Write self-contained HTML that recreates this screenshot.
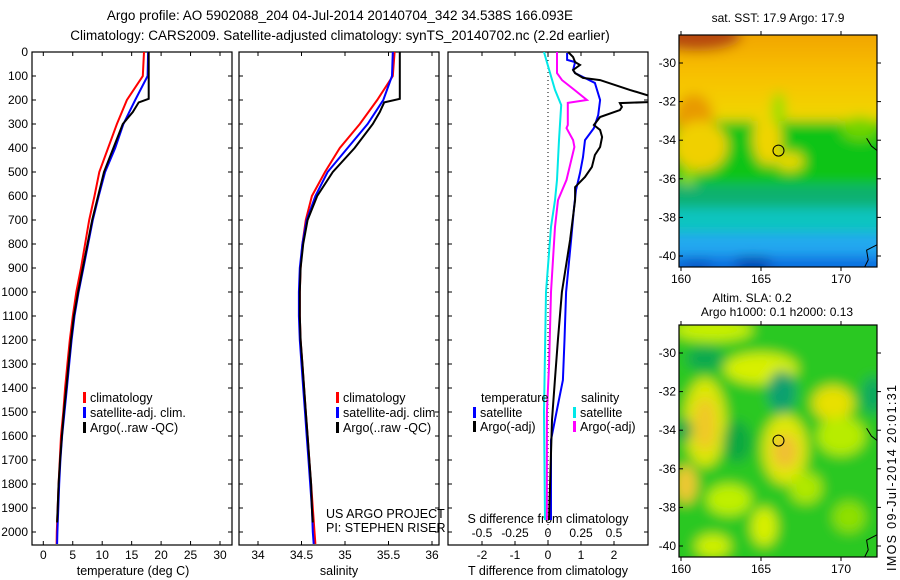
<!DOCTYPE html>
<html><head><meta charset="utf-8"><style>
html,body{margin:0;padding:0;background:#fff;}
svg{display:block;font-family:"Liberation Sans",sans-serif;}
</style></head><body>
<svg id="fig" width="900" height="580" viewBox="0 0 900 580">
<defs>
<clipPath id="c1"><rect x="32" y="52" width="200" height="493"/></clipPath>
<clipPath id="c2"><rect x="239" y="52" width="200" height="493"/></clipPath>
<clipPath id="c3"><rect x="448" y="52" width="200" height="493"/></clipPath>
<clipPath id="cm1"><rect x="679" y="35" width="198" height="232"/></clipPath>
<clipPath id="cm2"><rect x="679" y="325" width="198" height="232"/></clipPath>
<filter id="bl" filterUnits="userSpaceOnUse" x="600" y="0" width="300" height="580"><feGaussianBlur stdDeviation="6"/></filter>
<linearGradient id="sstg" x1="0" y1="0" x2="0" y2="1">
<stop offset="0" stop-color="#d87000"/><stop offset="0.3" stop-color="#f0a000"/><stop offset="0.65" stop-color="#f8c000"/><stop offset="1" stop-color="#f0d800"/>
</linearGradient>
</defs>
<g font-size="13.5" text-anchor="middle" fill="#000">
<text x="340" y="20">Argo profile: AO 5902088_204 04-Jul-2014 20140704_342 34.538S 166.093E</text>
<text x="340" y="40">Climatology: CARS2009. Satellite-adjusted climatology: synTS_20140702.nc (2.2d earlier)</text>
</g>
<g id="axes"></g>
<g id="maps"></g>
</svg>
<script>
// ---- data ----
const tempDepthClim = [0,100,200,300,400,500,600,700,800,900,1000,1100,1200,1300,1400,1500,1600,1700,1800,1900,2000,2050];
const tempClim = [17.1,16.9,14.2,12.5,11.0,9.5,8.7,7.8,7.1,6.4,5.6,5.0,4.5,4.1,3.7,3.4,3.0,2.8,2.6,2.45,2.3,2.25];
const tempSat = [17.8,17.7,15.6,13.6,12.2,10.5,9.4,8.4,7.6,6.8,6.0,5.3,4.8,4.4,4.0,3.6,3.2,2.9,2.7,2.55,2.4,2.35];
const argoDepth = [0,195,210,250,300,400,500,600,700,800,900,1000,1100,1200,1300,1400,1500,1600,1700,1800,1900,1960];
const tempArgo = [17.9,17.9,16.2,15.2,13.5,11.9,10.3,9.3,8.3,7.5,6.7,5.9,5.2,4.7,4.3,3.9,3.5,3.15,2.85,2.6,2.45,2.35];
const salClim = [35.57,35.55,35.37,35.17,34.94,34.77,34.62,34.55,34.51,34.49,34.48,34.48,34.49,34.51,34.53,34.55,34.57,34.59,34.61,34.63,34.65,34.66];
const salSat = [35.55,35.54,35.44,35.26,35.03,34.80,34.66,34.56,34.51,34.48,34.47,34.47,34.48,34.50,34.52,34.54,34.56,34.58,34.60,34.62,34.63,34.64];
const salArgo = [35.63,35.63,35.45,35.40,35.32,35.11,34.86,34.68,34.57,34.52,34.49,34.48,34.48,34.49,34.51,34.53,34.55,34.57,34.59,34.61,34.62,34.63];
const dTsatDepth = [4,33,42,75,88,104,129,200,263,317,367,438,504,575,646,783,1000,1200,1367,1450,1617,1950];
const dTsat = [0.58,0.58,0.82,0.76,0.82,1.06,1.42,1.58,1.52,1.39,1.12,1.06,0.97,0.85,0.79,0.70,0.55,0.50,0.45,0.33,0.09,0.09];
const dTargoDepth = [0,21,42,54,75,88,108,117,158,188,208,213,229,242,271,304,325,354,396,429,479,521,563,617,783,1000,1200,1367,1533,1950];
const dTargo = [0.61,0.76,0.82,0.97,0.76,0.82,1.06,1.58,2.48,3.2,3.2,2.18,2.24,2.18,1.58,1.39,1.58,1.64,1.58,1.42,1.33,1.12,0.82,0.82,0.67,0.42,0.30,0.21,0.12,0.03];
const dSsatDepth = [0,42,158,221,367,533,617,729,1000,1500,1950];
const dSsat = [-0.03,-0.008,0.053,0.10,0.083,0.068,0.053,0.023,-0.015,-0.03,-0.023];
const dSargoDepth = [0,88,117,158,200,212,304,317,367,396,533,617,729,1000,1300,1500,1950];
const dSargo = [0.068,0.068,0.106,0.20,0.295,0.15,0.15,0.14,0.19,0.20,0.14,0.076,0.053,0.023,0.008,-0.008,-0.008];
const depthTicks = [0,100,200,300,400,500,600,700,800,900,1000,1100,1200,1300,1400,1500,1600,1700,1800,1900,2000];
const tempTicks = [0,5,10,15,20,25,30];
const salTicks = [34,34.5,35,35.5,36];
const salTickLabels = ["34","34.5","35","35.5","36"];
const dTTicks = [-2,-1,0,1,2];
const dSTicks = [-0.5,-0.25,0,0.25,0.5];
const dSTickLabels = ["-0.5","-0.25","0","0.25","0.5"];

// ---- scales ----
const NS='http://www.w3.org/2000/svg';
const Y=d=>52+d*0.24;
const xT=t=>43.3+t*5.89;
const xS=s=>258+(s-34)*87;
const xDT=t=>548+t*33;
const xDS=s=>548+s*132;
const axes=document.getElementById('axes');
function mk(tag,attrs,parent){const e=document.createElementNS(NS,tag);for(const k in attrs)e.setAttribute(k,attrs[k]);(parent||axes).appendChild(e);return e;}
function txt(x,y,s,anchor,size,parent){const e=mk('text',{x:x,y:y,'text-anchor':anchor||'middle','font-size':size||12},parent);e.textContent=s;return e;}

const panels=[{x0:32,x1:232,clip:'c1'},{x0:239,x1:439,clip:'c2'},{x0:448,x1:648,clip:'c3'}];
panels.forEach((p,i)=>{
  const r=mk('rect',{x:p.x0,y:52,width:p.x1-p.x0,height:493,fill:'none',stroke:'#000','stroke-width':1.2});
  
  
  depthTicks.forEach(d=>{
    mk('line',{x1:p.x0,x2:p.x0+4,y1:Y(d),y2:Y(d),stroke:'#000'});
    mk('line',{x1:p.x1-4,x2:p.x1,y1:Y(d),y2:Y(d),stroke:'#000'});
  });
});
depthTicks.forEach(d=>{
  const t=txt(28,Y(d)+4,String(d),'end',12);
  
  
});
function xticks(vals,labels,fx,ly,name){
  vals.forEach((v,i)=>{
    mk('line',{x1:fx(v),x2:fx(v),y1:52,y2:56,stroke:'#000'});
    mk('line',{x1:fx(v),x2:fx(v),y1:541,y2:545,stroke:'#000'});
    const t=txt(fx(v),ly,labels[i],'middle',12);
    
    
  });
}
xticks(tempTicks,tempTicks.map(String),xT,559,'temperature-tick-label');
xticks(salTicks,salTickLabels,xS,559,'salinity-tick-label');
xticks(dTTicks,dTTicks.map(String),xDT,559,'t-difference-tick-label');
dSTicks.forEach((v,i)=>{const t=txt(xDS(v),537,dSTickLabels[i],'middle',12);
  
  });
[['temperature (deg C)',133,'x-axis-title-temperature'],['salinity',339,'x-axis-title-salinity'],['T difference from climatology',548,'x-axis-title-t-difference']].forEach(a=>{
  const t=txt(a[1],575,a[0],'middle',12.5);
  
  
});
const sdt=txt(548,523,'S difference from climatology','middle',12.5);


const zl=mk('line',{x1:548,x2:548,y1:52,y2:545,stroke:'#000','stroke-dasharray':'1,3'});



function series(depths,vals,fx,color,clip,name){
  const pts=depths.map((d,i)=>fx(vals[i]).toFixed(1)+','+Y(d).toFixed(1)).join(' ');
  const pl=mk('polyline',{points:pts,fill:'none',stroke:color,'stroke-width':2,'clip-path':'url(#'+clip+')'});
  
  
}
series(tempDepthClim,tempClim,xT,'#ff0000','c1','temp-climatology-line');
series(tempDepthClim,tempSat,xT,'#0000ff','c1','temp-satellite-line');
series(argoDepth,tempArgo,xT,'#000000','c1','temp-argo-line');
series(tempDepthClim,salClim,xS,'#ff0000','c2','sal-climatology-line');
series(tempDepthClim,salSat,xS,'#0000ff','c2','sal-satellite-line');
series(argoDepth,salArgo,xS,'#000000','c2','sal-argo-line');
series(dSsatDepth,dSsat,xDS,'#00e8e8','c3','s-diff-satellite-line');
series(dSargoDepth,dSargo,xDS,'#ff00ff','c3','s-diff-argo-line');
series(dTsatDepth,dTsat,xDT,'#0000ff','c3','t-diff-satellite-line');
series(dTargoDepth,dTargo,xDT,'#000000','c3','t-diff-argo-line');

function legendItem(x,y,color,label,name){
  const m=mk('rect',{x:x,y:y-10,width:3,height:11,fill:color});
  
  
  const t=txt(x+7,y,label,'start',12.5);
  
  
}
legendItem(83,402,'#ff0000','climatology','legend-climatology');
legendItem(83,417,'#0000ff','satellite-adj. clim.','legend-satellite-adj');
legendItem(83,432,'#000000','Argo(..raw -QC)','legend-argo');
legendItem(336,402,'#ff0000','climatology','legend-sal-climatology');
legendItem(336,417,'#0000ff','satellite-adj. clim.','legend-sal-satellite-adj');
legendItem(336,432,'#000000','Argo(..raw -QC)','legend-sal-argo');
let t0=txt(481,402,'temperature','start',12.5);
let t1=txt(581,402,'salinity','start',12.5);
legendItem(473,417,'#0000ff','satellite','legend-t-satellite');
legendItem(473,431,'#000000','Argo(-adj)','legend-t-argo');
legendItem(573,417,'#00e8e8','satellite','legend-s-satellite');
legendItem(573,431,'#ff00ff','Argo(-adj)','legend-s-argo');
let pj=txt(326,518,'US ARGO PROJECT','start',12.5);
let pi=txt(326,532,'PI: STEPHEN RISER','start',12.5);

// ---- maps ----
const maps=document.getElementById('maps');
const lonX=l=>681+(l-160)*16;
function buildMap(top,clip,kind){
  const latY=la=>top+28+(-30-la)*19.3;
  const g=mk('g',{'clip-path':'url(#'+clip+')'},maps);
  
  
  const inner=mk('g',{filter:'url(#bl)'},g);
  const R=(lo1,la1,lo2,la2,c)=>mk('rect',{x:lonX(lo1),y:latY(la1),width:lonX(lo2)-lonX(lo1),height:latY(la2)-latY(la1),fill:c},inner);
  const E=(lo,la,rx,ry,c)=>mk('ellipse',{cx:lonX(lo),cy:latY(la),rx:rx*16,ry:ry*19.3,fill:c},inner);
  if(kind==='sst'){
    R(158,-26,175,-43,'#10c418');
    R(158,-26,175,-33.0,'url(#sstg)');
    E(161,-28.6,2.8,0.8,'#b84808');
    E(160.8,-32.8,1.2,1.2,'#e89a00');
    E(161.2,-34.3,1.7,1.3,'#f0d000');
    E(165.4,-33.9,0.9,1.4,'#f0d400');
    E(166.8,-35.1,0.9,0.5,'#e8d800');
    E(166.1,-32.4,0.4,0.9,'#90e000');
    E(160.4,-36.5,0.5,1.1,'#90dc00');
    E(171.2,-33.4,1.2,0.6,'#70d400');
    R(158,-36.3,175,-37.5,'#10b070');
    R(158,-37.5,175,-38.8,'#10c4c0');
    R(158,-38.8,175,-40.0,'#20a8f0');
    R(158,-40.0,175,-43,'#1070e0');
    E(164.5,-40.4,1.2,0.4,'#0040b0');
    E(161,-40.5,1,0.3,'#0050c0');
  } else {
    R(158,-26,175,-43,'#2cc820');
    E(162,-28.8,2.5,0.6,'#c8f000');
    E(165,-30.8,2.3,0.8,'#d8f000');
    E(161.5,-30.3,1.2,0.6,'#10a850');
    E(166.3,-32,0.9,1.1,'#10a070');
    E(161.5,-33.6,1.3,2.3,'#dce800');
    E(161.5,-33.7,0.7,1.4,'#f0c828');
    E(163.5,-34.6,0.9,1.1,'#10a840');
    E(160.2,-34,0.5,0.6,'#10a050');
    E(166.5,-35,1.4,1.8,'#e0e800');
    E(166.5,-35.1,0.8,0.9,'#f0c030');
    E(169.5,-32.6,1.3,0.9,'#e8e000');
    E(160.3,-36.8,0.7,1,'#f0c830');
    E(163,-37.6,1.4,0.8,'#c0f000');
    E(165.2,-39,0.8,1,'#d8f000');
    E(167.8,-37,1,0.8,'#b0e800');
    E(170,-34.3,1.5,1,'#b8ec00');
    E(162,-40,1.1,0.6,'#d0f000');
    E(172,-32.2,0.7,1,'#10a860');
    E(170.5,-38.5,1,0.8,'#90e000');
  }
  const cst=mk('polyline',{points:[[171.6,-33.9],[171.9,-34.3],[172.2,-34.5],[172.4,-34.7]].map(p=>lonX(p[0])+','+latY(p[1])).join(' '),fill:'none',stroke:'#000','stroke-width':1},g);
  
  
  const cst2=mk('polyline',{points:[[171.4,-40.7],[171.7,-40.2],[171.6,-39.7],[172.3,-39.4]].map(p=>lonX(p[0])+','+latY(p[1])).join(' '),fill:'none',stroke:'#000','stroke-width':1},g);
  
  
  const c=mk('circle',{cx:lonX(166.093),cy:latY(-34.538),r:5.5,fill:'none',stroke:'#000','stroke-width':1},maps);
  
  
  const fr=mk('rect',{x:679,y:top,width:198,height:232,fill:'none',stroke:'#000','stroke-width':1.2},maps);
  
  
  [-30,-32,-34,-36,-38,-40].forEach(la=>{
    mk('line',{x1:679,x2:683,y1:latY(la),y2:latY(la),stroke:'#000'},maps);
    mk('line',{x1:877,x2:881,y1:latY(la),y2:latY(la),stroke:'#000'},maps);
    const t=txt(676,latY(la)+4,String(la),'end',12,maps);
    
    
  });
  [160,165,170].forEach(lo=>{
    mk('line',{x1:lonX(lo),x2:lonX(lo),y1:top,y2:top-4,stroke:'#000'},maps);
    mk('line',{x1:lonX(lo),x2:lonX(lo),y1:top+232,y2:top+236,stroke:'#000'},maps);
    const t=txt(lonX(lo),top+248,String(lo),'middle',12,maps);
    
    
  });
}
buildMap(35,'cm1','sst');
buildMap(325,'cm2','sla');
let m1=txt(778,22,'sat. SST: 17.9 Argo: 17.9','middle',12,maps);
let m2=txt(752,302,'Altim. SLA: 0.2','middle',12,maps);
let m3=txt(777,316,'Argo h1000: 0.1 h2000: 0.13','middle',12,maps);
let im=txt(0,0,'IMOS 09-Jul-2014 20:01:31','start',12.5,maps);
im.setAttribute('transform','translate(896,571) rotate(-90)');
im.setAttribute('textLength','186');


</script>
</body></html>
